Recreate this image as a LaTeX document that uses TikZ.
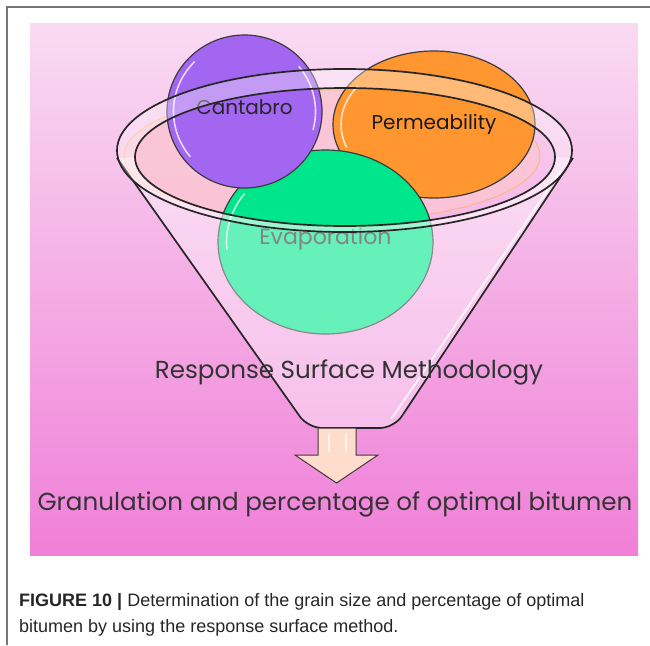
\documentclass[tikz,border=0pt]{standalone}
\usepackage{fontspec}
\setmainfont{Liberation Sans}
\newfontfamily\rsmfont{Poppins}
\usetikzlibrary{shapes.geometric,positioning}
\definecolor{rsmframe}{HTML}{767676}
\definecolor{rsmpinktop}{HTML}{F9DBF2}
\definecolor{rsmpinkbot}{HTML}{F07FD8}
\definecolor{rsmpurple}{HTML}{A366F0}
\definecolor{rsmorange}{HTML}{FF9630}
\definecolor{rsmgreen}{HTML}{00E68C}
\definecolor{rsmliquid}{HTML}{FBC6D2}
\definecolor{rsmarrow}{HTML}{FFDCCB}
\definecolor{rsmedge}{HTML}{3C3C3C}

\begin{document}
\begin{tikzpicture}[x=1pt, y=-1pt,
  bubble/.style={ellipse, inner sep=0pt, outer sep=0pt, draw=rsmedge, line width=1.2pt,
    font=\rsmfont\fontsize{20}{22}\selectfont},
  rimline/.style={draw=black!85, line width=1.7pt},
  gloss/.style={white, line width=1.6pt, opacity=.75, line cap=round},
  bigtext/.style={font=\rsmfont\fontsize{24.6}{26}\selectfont, text=black!80, inner sep=0pt},
  captext/.style={anchor=base west, inner sep=0pt, font=\fontsize{18}{20}\selectfont, text=black!85}]
\useasboundingbox (0,0) rectangle (650,645);
% ---- frame and panel ----
\draw[rsmframe, line width=1.4pt] (7,645) -- (7,7) -- (650,7);
\shade[top color=rsmpinktop, bottom color=rsmpinkbot] (30,23) rectangle (638,555);
% ---- liquid in the funnel ----
\fill[rsmliquid, opacity=.8] (332,156) ellipse [x radius=208, y radius=66];
\draw[rsmorange!70, line width=.8pt] (332,156) ellipse [x radius=208, y radius=66];
% ---- the three responses ----
\node[bubble, fill=rsmorange, minimum width=202pt, minimum height=147pt, text=black!90]
  (perm) at (434,124.5) {Permeability};
\node[bubble, fill=rsmgreen, minimum width=215pt, minimum height=184pt, text=black!80,
  font=\rsmfont\fontsize{22}{24}\selectfont, text depth=12pt] (evap) at (325.5,242) {Evaporation};
\node[bubble, fill=rsmpurple, minimum width=155pt, minimum height=153pt, text=black!85,
  text depth=8pt] (cant) at (244.5,111.5) {Cantabro};
\draw[gloss] (perm.center) ++(160:93 and 67) arc[start angle=160, end angle=215, x radius=93, y radius=67];
\draw[gloss] (evap.center) ++(175:99 and 84) arc[start angle=175, end angle=215, x radius=99, y radius=84];
\draw[gloss] (cant.center) ++(140:71 and 70) arc[start angle=140, end angle=225, x radius=71, y radius=70];
\draw[gloss] (cant.center) ++(-40:71 and 70) arc[start angle=-40, end angle=15, x radius=71, y radius=70];
% ---- funnel body ----
\fill[white, opacity=.4] (555,157) arc[start angle=0, end angle=180, x radius=210, y radius=69]
  -- (117,158) [rounded corners=14pt] -- (308,428) -- (394,428) [sharp corners] -- (573,158) -- cycle;
\draw[rimline] (117,158) [rounded corners=14pt] -- (308,428) -- (394,428) [sharp corners] -- (573,158);
\draw[gloss, line width=2pt] (560,172) -- (392,418);
% ---- funnel rim ----
\fill[white, opacity=.35, even odd rule] (344.5,150.5) ellipse [x radius=227.5, y radius=81.5]
  (345,157) ellipse [x radius=210, y radius=69];
\draw[rimline] (344.5,150.5) ellipse [x radius=227.5, y radius=81.5];
\draw[rimline] (345,157) ellipse [x radius=210, y radius=69];
% ---- output arrow ----
\draw[rsmedge, line width=1pt, fill=rsmarrow] (318,428) -- (356,428) -- (356,455) -- (378,455)
  -- (336.5,483) -- (295,455) -- (318,455) -- cycle;
\draw[gloss, line width=1.2pt] (329,434) -- (329,452);
\draw[gloss, line width=1.2pt] (346,434) -- (346,452);
% ---- texts ----
\node[bigtext] (rsm) at (349,372) {Response Surface Methodology};
\node[bigtext] (result) at (335,504) {Granulation and percentage of optimal bitumen};
\node[captext] (cap1) at (19,606)
  {\textbf{FIGURE 10 |} Determination of the grain size and percentage of optimal};
\node[captext] (cap2) at (19,632) {bitumen by using the response surface method.};
\end{tikzpicture}
\end{document}
